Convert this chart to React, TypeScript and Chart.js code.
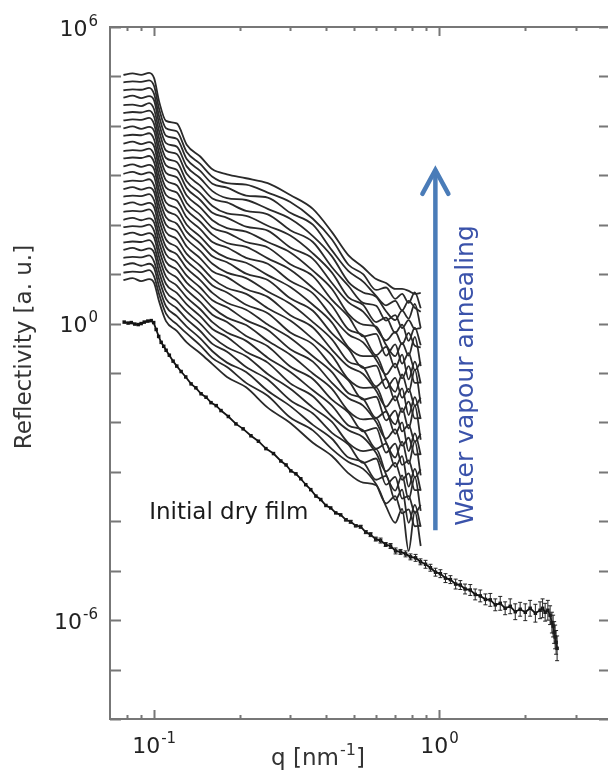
import React, { useEffect, useRef } from "react";
import { Chart, registerables } from "chart.js";

Chart.register(...registerables);

// ---------- data (q in nm^-1, reflectivity stored as log10 values) ----------
const annealQ = [0.078, 0.084, 0.09, 0.096, 0.1, 0.104, 0.11, 0.12, 0.13, 0.145, 0.16, 0.18, 0.21, 0.25, 0.3, 0.36, 0.42, 0.48, 0.54, 0.6, 0.65, 0.7, 0.74, 0.78, 0.82, 0.86];

// annealing steps, step01 = lowest (first) curve, step28 = top curve
const step28 = [5.03, 5.06, 5.03, 5.07, 4.96, 4.5, 4.1, 4.05, 3.62, 3.38, 3.12, 3.02, 2.94, 2.84, 2.6, 2.32, 1.85, 1.38, 1.14, 0.9, 0.82, 0.7, 0.7, 0.66, 0.6, 0.62];
const step27 = [4.88, 4.9, 4.89, 4.92, 4.8, 4.35, 3.95, 3.89, 3.47, 3.23, 2.97, 2.84, 2.81, 2.65, 2.46, 2.12, 1.7, 1.19, 1.0, 0.68, 0.73, 0.5, 0.6, 0.42, 0.63, 0.31];
const step26 = [4.72, 4.74, 4.73, 4.77, 4.64, 4.2, 3.8, 3.74, 3.33, 3.09, 2.83, 2.75, 2.59, 2.55, 2.24, 2.0, 1.48, 1.06, 0.85, 0.56, 0.37, 0.46, 0.27, 0.46, 0.32, 0.24];
const step25 = [4.57, 4.61, 4.56, 4.6, 4.51, 4.05, 3.65, 3.58, 3.18, 2.94, 2.68, 2.54, 2.5, 2.32, 2.12, 1.77, 1.36, 0.84, 0.63, 0.54, 0.25, 0.07, 0.26, 0.1, 0.4, -0.09];
const step24 = [4.42, 4.43, 4.4, 4.46, 4.33, 3.9, 3.5, 3.43, 3.03, 2.79, 2.53, 2.45, 2.28, 2.21, 1.89, 1.65, 1.14, 0.76, 0.42, 0.36, 0.06, 0.17, -0.09, 0.07, -0.11, -0.09];
const step23 = [4.26, 4.28, 4.27, 4.31, 4.18, 3.75, 3.35, 3.27, 2.88, 2.64, 2.38, 2.23, 2.18, 1.98, 1.78, 1.42, 1.03, 0.53, 0.38, 0.03, 0.12, -0.19, -0.02, -0.35, -0.08, -0.44];
const step22 = [4.11, 4.13, 4.12, 4.16, 4.03, 3.6, 3.2, 3.11, 2.74, 2.5, 2.24, 2.14, 1.96, 1.88, 1.54, 1.31, 0.82, 0.43, 0.24, -0.09, -0.34, -0.17, -0.42, -0.19, -0.45, -0.48];
const step21 = [3.95, 3.99, 3.94, 3.98, 3.89, 3.45, 3.05, 2.96, 2.59, 2.35, 2.09, 1.93, 1.86, 1.65, 1.44, 1.07, 0.7, 0.19, -0.02, -0.06, -0.43, -0.66, -0.39, -0.65, -0.27, -0.86];
const step20 = [3.8, 3.82, 3.81, 3.85, 3.72, 3.3, 2.9, 2.8, 2.44, 2.2, 1.94, 1.84, 1.65, 1.54, 1.2, 0.96, 0.48, 0.14, -0.26, -0.21, -0.65, -0.42, -0.81, -0.6, -0.94, -0.78];
const step19 = [3.64, 3.68, 3.63, 3.67, 3.58, 3.15, 2.75, 2.65, 2.3, 2.06, 1.8, 1.63, 1.55, 1.32, 1.09, 0.72, 0.36, -0.12, -0.24, -0.64, -0.47, -0.89, -0.63, -1.13, -0.77, -1.21];
const step18 = [3.49, 3.51, 3.5, 3.54, 3.41, 3.0, 2.6, 2.49, 2.15, 1.91, 1.65, 1.54, 1.33, 1.21, 0.86, 0.61, 0.14, -0.22, -0.38, -0.73, -1.03, -0.81, -1.11, -0.86, -1.2, -1.19];
const step17 = [3.34, 3.36, 3.35, 3.39, 3.26, 2.85, 2.45, 2.33, 2.0, 1.76, 1.5, 1.33, 1.23, 0.98, 0.74, 0.38, 0.02, -0.48, -0.66, -0.66, -1.1, -1.38, -1.03, -1.39, -0.93, -1.62];
const step16 = [3.18, 3.22, 3.17, 3.21, 3.12, 2.7, 2.3, 2.18, 1.86, 1.62, 1.36, 1.24, 1.01, 0.88, 0.51, 0.26, -0.2, -0.51, -0.9, -0.85, -1.31, -1.1, -1.5, -1.32, -1.66, -1.5];
const step15 = [3.03, 3.07, 3.02, 3.06, 2.97, 2.55, 2.15, 2.02, 1.71, 1.47, 1.21, 1.03, 0.92, 0.65, 0.4, 0.03, -0.32, -0.77, -0.88, -1.27, -1.12, -1.56, -1.31, -1.85, -1.49, -1.93];
const step14 = [2.87, 2.89, 2.88, 2.92, 2.79, 2.4, 2.0, 1.87, 1.56, 1.32, 1.06, 0.94, 0.7, 0.54, 0.17, -0.08, -0.53, -0.87, -1.02, -1.36, -1.68, -1.47, -1.79, -1.58, -1.92, -1.91];
const step13 = [2.72, 2.76, 2.71, 2.75, 2.66, 2.25, 1.85, 1.71, 1.41, 1.17, 0.91, 0.72, 0.6, 0.31, 0.06, -0.31, -0.65, -1.13, -1.3, -1.29, -1.75, -2.04, -1.71, -2.12, -1.66, -2.35];
const step12 = [2.57, 2.59, 2.58, 2.62, 2.49, 2.1, 1.7, 1.55, 1.27, 1.03, 0.77, 0.63, 0.38, 0.21, -0.18, -0.42, -0.86, -1.15, -1.54, -1.48, -1.96, -1.76, -2.18, -2.05, -2.39, -2.23];
const step11 = [2.41, 2.45, 2.4, 2.44, 2.35, 1.95, 1.55, 1.4, 1.12, 0.88, 0.62, 0.42, 0.28, -0.02, -0.29, -0.66, -0.98, -1.41, -1.52, -1.91, -1.78, -2.23, -2.0, -2.58, -2.22, -2.66];
const step10 = [2.26, 2.28, 2.27, 2.31, 2.18, 1.8, 1.4, 1.24, 0.97, 0.73, 0.47, 0.33, 0.07, -0.13, -0.52, -0.77, -1.2, -1.51, -1.66, -1.99, -2.33, -2.14, -2.47, -2.31, -2.65, -2.64];
const step09 = [2.1, 2.14, 2.09, 2.13, 2.04, 1.65, 1.25, 1.09, 0.83, 0.59, 0.33, 0.12, -0.03, -0.35, -0.63, -1.01, -1.32, -1.77, -1.94, -1.92, -2.4, -2.71, -2.39, -2.84, -2.38, -3.07];
const step08 = [1.95, 1.97, 1.96, 2.0, 1.87, 1.5, 1.1, 0.93, 0.68, 0.44, 0.18, 0.03, -0.25, -0.46, -0.87, -1.12, -1.54, -1.8, -2.18, -2.11, -2.61, -2.43, -2.86, -2.77, -3.11, -2.95];
const step07 = [1.8, 1.84, 1.79, 1.83, 1.74, 1.35, 0.95, 0.77, 0.53, 0.29, 0.03, -0.18, -0.35, -0.69, -0.98, -1.35, -1.66, -2.06, -2.16, -2.53, -2.43, -2.9, -2.68, -3.3, -2.94, -3.38];
const step06 = [1.64, 1.66, 1.65, 1.69, 1.56, 1.2, 0.8, 0.62, 0.39, 0.15, -0.11, -0.27, -0.57, -0.79, -1.21, -1.47, -1.88, -2.16, -2.3, -2.62, -2.99, -2.82, -3.16, -3.03, -3.37, -3.36];
const step05 = [1.49, 1.53, 1.48, 1.52, 1.43, 1.05, 0.65, 0.46, 0.24, 0.0, -0.26, -0.48, -0.66, -1.02, -1.32, -1.7, -1.99, -2.42, -2.58, -2.54, -3.05, -3.38, -3.07, -3.56, -3.1, -3.79];
const step04 = [1.33, 1.35, 1.34, 1.38, 1.25, 0.9, 0.5, 0.31, 0.09, -0.15, -0.41, -0.57, -0.88, -1.13, -1.55, -1.82, -2.21, -2.45, -2.82, -2.73, -3.26, -3.1, -3.54, -3.49, -3.83, -3.67];
const step03 = [1.18, 1.22, 1.17, 1.21, 1.12, 0.75, 0.35, 0.15, -0.06, -0.3, -0.56, -0.79, -0.98, -1.36, -1.67, -2.05, -2.33, -2.71, -2.8, -3.16, -3.08, -3.57, -3.36, -4.03, -3.67, -4.11];
const step02 = [1.03, 1.05, 1.04, 1.08, 0.95, 0.6, 0.2, -0.01, -0.2, -0.44, -0.7, -0.88, -1.2, -1.46, -1.9, -2.16, -2.54, -2.8, -2.94, -3.25, -3.64, -3.49, -3.84, -3.76, -4.1, -4.09];
const step01 = [0.88, 0.92, 0.86, 0.9, 0.82, 0.45, 0.05, -0.15, -0.38, -0.6, -0.82, -1.08, -1.29, -1.7, -2.01, -2.41, -2.68, -3.03, -3.22, -3.27, -3.7, -4.03, -3.75, -4.6, -3.8, -4.5];

const annealSteps = [step01, step02, step03, step04, step05, step06, step07, step08, step09, step10, step11, step12, step13, step14, step15, step16, step17, step18, step19, step20, step21, step22, step23, step24, step25, step26, step27, step28];

// initial dry film
const dryQ = [0.0785, 0.081, 0.0831, 0.0855, 0.0879, 0.09, 0.0923, 0.095, 0.0976, 0.0996, 0.1016, 0.1037, 0.1058, 0.108, 0.1101, 0.113, 0.1165, 0.12, 0.1243, 0.129, 0.1347, 0.14, 0.146, 0.152, 0.1582, 0.165, 0.1715, 0.182, 0.1935, 0.205, 0.2184, 0.232, 0.2464, 0.262, 0.278, 0.29, 0.3013, 0.314, 0.3266, 0.34, 0.354, 0.369, 0.3837, 0.4, 0.4158, 0.433, 0.4507, 0.47, 0.4885, 0.509, 0.5295, 0.552, 0.5737, 0.598, 0.6219, 0.648, 0.6741, 0.702, 0.7306, 0.761, 0.7918, 0.825, 0.8583, 0.894, 0.9301, 0.969, 1.008, 1.05, 1.093, 1.14, 1.184, 1.23, 1.283, 1.335, 1.391, 1.45, 1.508, 1.57, 1.634, 1.7, 1.771, 1.845, 1.919, 2.0, 2.08, 2.17, 2.254, 2.3, 2.348, 2.4, 2.444, 2.48, 2.504, 2.525, 2.545, 2.565, 2.586];
const dryLog = [0.03, 0.01, 0.02, -0.01, -0.02, 0.0, 0.03, 0.05, 0.06, 0.02, -0.12, -0.26, -0.38, -0.46, -0.54, -0.64, -0.76, -0.86, -0.97, -1.08, -1.22, -1.3, -1.42, -1.49, -1.6, -1.66, -1.76, -1.88, -2.03, -2.13, -2.27, -2.38, -2.53, -2.63, -2.78, -2.86, -2.98, -3.04, -3.14, -3.26, -3.36, -3.49, -3.56, -3.68, -3.73, -3.83, -3.87, -3.97, -4.01, -4.09, -4.11, -4.22, -4.27, -4.36, -4.39, -4.47, -4.5, -4.6, -4.62, -4.66, -4.72, -4.74, -4.82, -4.87, -4.94, -5.03, -5.06, -5.15, -5.18, -5.27, -5.29, -5.37, -5.39, -5.48, -5.51, -5.58, -5.59, -5.69, -5.66, -5.76, -5.72, -5.83, -5.78, -5.84, -5.76, -5.86, -5.8, -5.76, -5.84, -5.8, -5.9, -6.05, -6.12, -6.25, -6.34, -6.45, -6.57];
const dryErrLog = [0, 0, 0, 0, 0, 0, 0, 0, 0, 0, 0, 0, 0, 0, 0, 0, 0, 0, 0, 0, 0, 0, 0, 0, 0, 0, 0, 0, 0, 0, 0, 0, 0, 0, 0, 0, 0, 0, 0, 0, 0, 0, 0, 0, 0, 0, 0, 0.02, 0.03, 0.02, 0.03, 0.03, 0.04, 0.04, 0.05, 0.04, 0.05, 0.06, 0.05, 0.06, 0.06, 0.07, 0.06, 0.08, 0.07, 0.08, 0.08, 0.09, 0.08, 0.1, 0.09, 0.1, 0.11, 0.11, 0.12, 0.11, 0.13, 0.12, 0.14, 0.13, 0.15, 0.16, 0.14, 0.17, 0.16, 0.18, 0.17, 0.19, 0.18, 0.2, 0.19, 0.21, 0.22, 0.22, 0.24, 0.24, 0.25];

// axes
const xMin = 0.07;
const xMax = 3.9;
const xTickValues = [0.08, 0.09, 0.1, 0.2, 0.3, 0.4, 0.5, 0.6, 0.7, 0.8, 0.9, 1, 2, 3];
const xMajorTicks = [0.1, 1];
const xLabelExps = [-1, 0];
const yTickExps = [-8, -7, -6, -5, -4, -3, -2, -1, 0, 1, 2, 3, 4, 5, 6];
const yLabelExps = [-6, 0, 6];
const xTitleParts = [
  { t: "q [nm", sup: false },
  { t: "-1", sup: true },
  { t: "]", sup: false },
];
const yTitle = "Reflectivity [a. u.]";

// annotations (data coordinates)
const arrowQ = 0.968;
const arrowFromLog = -4.18;
const arrowToLog = 3.15;
const vapourText = "Water vapour annealing";
const vapourQ = 1.24;
const vapourLog = -1.05;
const dryText = "Initial dry film";
const dryTextQ = 0.096;
const dryTextLog = -3.84;

const FONT = "DejaVu Sans";
const BASE = 22;
const SUPF = 15;

function partsWidth(ctx: any, parts: any[], base: number, sup: number) {
  let w = 0;
  for (const p of parts) {
    ctx.font = `${p.sup ? sup : base}px "${FONT}"`;
    w += ctx.measureText(p.t).width + (p.sup ? 1 : 0);
  }
  return w;
}

// draws text parts with raised superscripts; (x0, baseline) = left start
function drawParts(ctx: any, parts: any[], x0: number, baseline: number, base: number, sup: number) {
  let xx = x0;
  ctx.textAlign = "left";
  ctx.textBaseline = "alphabetic";
  for (const p of parts) {
    ctx.font = `${p.sup ? sup : base}px "${FONT}"`;
    if (p.sup) xx += 1;
    ctx.fillText(p.t, xx, p.sup ? baseline - base * 0.45 : baseline);
    xx += ctx.measureText(p.t).width;
  }
}

const decorPlugin = {
  id: "decor",
  afterDatasetsDraw(chart: any) {
    const { ctx, chartArea: a, scales } = chart;
    const x = scales.x;
    const y = scales.y;
    ctx.save();

    // error bars of initial dry film
    ctx.strokeStyle = "#222";
    ctx.lineWidth = 1;
    for (let i = 0; i < dryQ.length; i++) {
      const e = dryErrLog[i];
      if (!e) continue;
      const px = x.getPixelForValue(dryQ[i]);
      const y1 = y.getPixelForValue(Math.pow(10, dryLog[i] + e));
      const y2 = y.getPixelForValue(Math.pow(10, dryLog[i] - e));
      ctx.beginPath();
      ctx.moveTo(px, y1);
      ctx.lineTo(px, y2);
      ctx.moveTo(px - 2, y1);
      ctx.lineTo(px + 2, y1);
      ctx.moveTo(px - 2, y2);
      ctx.lineTo(px + 2, y2);
      ctx.stroke();
    }

    // frame: left, top, bottom (right edge lies at the window edge)
    ctx.strokeStyle = "#777";
    ctx.lineWidth = 2;
    ctx.beginPath();
    ctx.moveTo(a.right + 2, a.top);
    ctx.lineTo(a.left, a.top);
    ctx.lineTo(a.left, a.bottom);
    ctx.lineTo(a.right + 2, a.bottom);
    ctx.stroke();

    // y ticks (inward, both sides)
    for (const e of yTickExps) {
      const py = Math.round(y.getPixelForValue(Math.pow(10, e))) + 0.5;
      ctx.beginPath();
      ctx.moveTo(a.left, py);
      ctx.lineTo(a.left + 11, py);
      ctx.moveTo(a.right - 9, py);
      ctx.lineTo(a.right, py);
      ctx.stroke();
    }
    // x ticks (inward, bottom and top)
    for (const v of xTickValues) {
      const px = Math.round(x.getPixelForValue(v)) + 0.5;
      const len = xMajorTicks.includes(v) ? 9 : 4;
      ctx.beginPath();
      ctx.moveTo(px, a.bottom);
      ctx.lineTo(px, a.bottom - len);
      ctx.moveTo(px, a.top);
      ctx.lineTo(px, a.top + len);
      ctx.stroke();
    }

    // tick labels
    ctx.fillStyle = "#222";
    for (const e of yLabelExps) {
      const parts = [
        { t: "10", sup: false },
        { t: String(e), sup: true },
      ];
      const w = partsWidth(ctx, parts, BASE, SUPF);
      const py = y.getPixelForValue(Math.pow(10, e));
      drawParts(ctx, parts, a.left - 12 - w, py + 8.5, BASE, SUPF);
    }
    for (const e of xLabelExps) {
      const parts = [
        { t: "10", sup: false },
        { t: String(e), sup: true },
      ];
      const w = partsWidth(ctx, parts, BASE, SUPF);
      const px = x.getPixelForValue(Math.pow(10, e));
      drawParts(ctx, parts, px - w / 2, a.bottom + 34, BASE, SUPF);
    }

    // axis titles
    ctx.fillStyle = "#333";
    const tw = partsWidth(ctx, xTitleParts, 23, 16);
    drawParts(ctx, xTitleParts, a.left + 208 - tw / 2, a.bottom + 46, 23, 16);
    ctx.font = `23px "${FONT}"`;
    ctx.textAlign = "center";
    ctx.textBaseline = "middle";
    ctx.save();
    ctx.translate(a.left - 85, a.top + 320);
    ctx.rotate(-Math.PI / 2);
    ctx.fillText(yTitle, 0, 0);
    ctx.restore();

    // "Initial dry film"
    ctx.fillStyle = "#1a1a1a";
    ctx.textAlign = "left";
    ctx.textBaseline = "middle";
    ctx.font = `23px "${FONT}"`;
    ctx.fillText(dryText, x.getPixelForValue(dryTextQ), y.getPixelForValue(Math.pow(10, dryTextLog)));

    // blue arrow
    const ax = x.getPixelForValue(arrowQ);
    const ay0 = y.getPixelForValue(Math.pow(10, arrowFromLog));
    const ay1 = y.getPixelForValue(Math.pow(10, arrowToLog));
    ctx.strokeStyle = "#4a7cb8";
    ctx.lineWidth = 4.5;
    ctx.lineCap = "butt";
    ctx.beginPath();
    ctx.moveTo(ax, ay0);
    ctx.lineTo(ax, ay1 + 2);
    ctx.stroke();
    ctx.lineCap = "round";
    ctx.lineJoin = "miter";
    ctx.beginPath();
    ctx.moveTo(ax - 13, ay1 + 26);
    ctx.lineTo(ax, ay1 + 2);
    ctx.lineTo(ax + 13, ay1 + 26);
    ctx.stroke();

    // blue text
    ctx.fillStyle = "#3a52aa";
    ctx.textAlign = "center";
    ctx.textBaseline = "middle";
    ctx.save();
    ctx.translate(x.getPixelForValue(vapourQ), y.getPixelForValue(Math.pow(10, vapourLog)));
    ctx.rotate(-Math.PI / 2);
    ctx.font = `25px "${FONT}"`;
    ctx.fillText(vapourText, 0, 0);
    ctx.restore();

    ctx.restore();
  },
};

export default function App() {
  const ref = useRef<HTMLCanvasElement | null>(null);

  useEffect(() => {
    if (!ref.current) return;
    const datasets: any[] = [];
    datasets.push({
      label: "Initial dry film",
      data: dryQ.map((q, i) => ({ x: q, y: Math.pow(10, dryLog[i]) })),
      borderColor: "#141414",
      backgroundColor: "#141414",
      borderWidth: 1.8,
      pointRadius: 1.2,
      pointStyle: "rect",
      tension: 0,
    });
    annealSteps.forEach((row, i) => {
      datasets.push({
        label: `Annealing step ${i + 1}`,
        data: annealQ.map((q, k) => ({ x: q, y: Math.pow(10, row[k]) })),
        borderColor: "#2a2a2a",
        borderWidth: 1.8,
        pointRadius: 0,
        cubicInterpolationMode: "monotone",
      });
    });

    const chart = new Chart(ref.current, {
      type: "line",
      data: { datasets },
      options: {
        responsive: false,
        animation: false,
        events: [],
        layout: { autoPadding: false, padding: { top: 27, left: 0, right: 0, bottom: 0 } },
        plugins: { legend: { display: false }, tooltip: { enabled: false } },
        scales: {
          x: {
            type: "logarithmic",
            min: xMin,
            max: xMax,
            afterFit: (s: any) => {
              s.height = 52;
              s.paddingLeft = 0;
              s.paddingRight = 0;
            },
            afterBuildTicks: (s: any) => {
              s.ticks = xTickValues.map((v) => ({ value: v }));
            },
            ticks: { display: false },
            grid: { display: false, drawTicks: false },
            border: { display: false },
          },
          y: {
            type: "logarithmic",
            min: 1e-8,
            max: 1e6,
            afterFit: (s: any) => {
              s.width = 110;
              s.paddingTop = 0;
              s.paddingBottom = 0;
            },
            afterBuildTicks: (s: any) => {
              s.ticks = yTickExps.map((e) => ({ value: Math.pow(10, e) }));
            },
            ticks: { display: false },
            grid: { display: false, drawTicks: false },
            border: { display: false },
          },
        },
      },
      plugins: [decorPlugin],
    });
    return () => chart.destroy();
  }, []);

  return (
    <div style={{ position: "absolute", left: 0, top: 0, width: 608, height: 771, background: "#fff" }}>
      <canvas ref={ref} width={608} height={771} style={{ display: "block" }} />
    </div>
  );
}
